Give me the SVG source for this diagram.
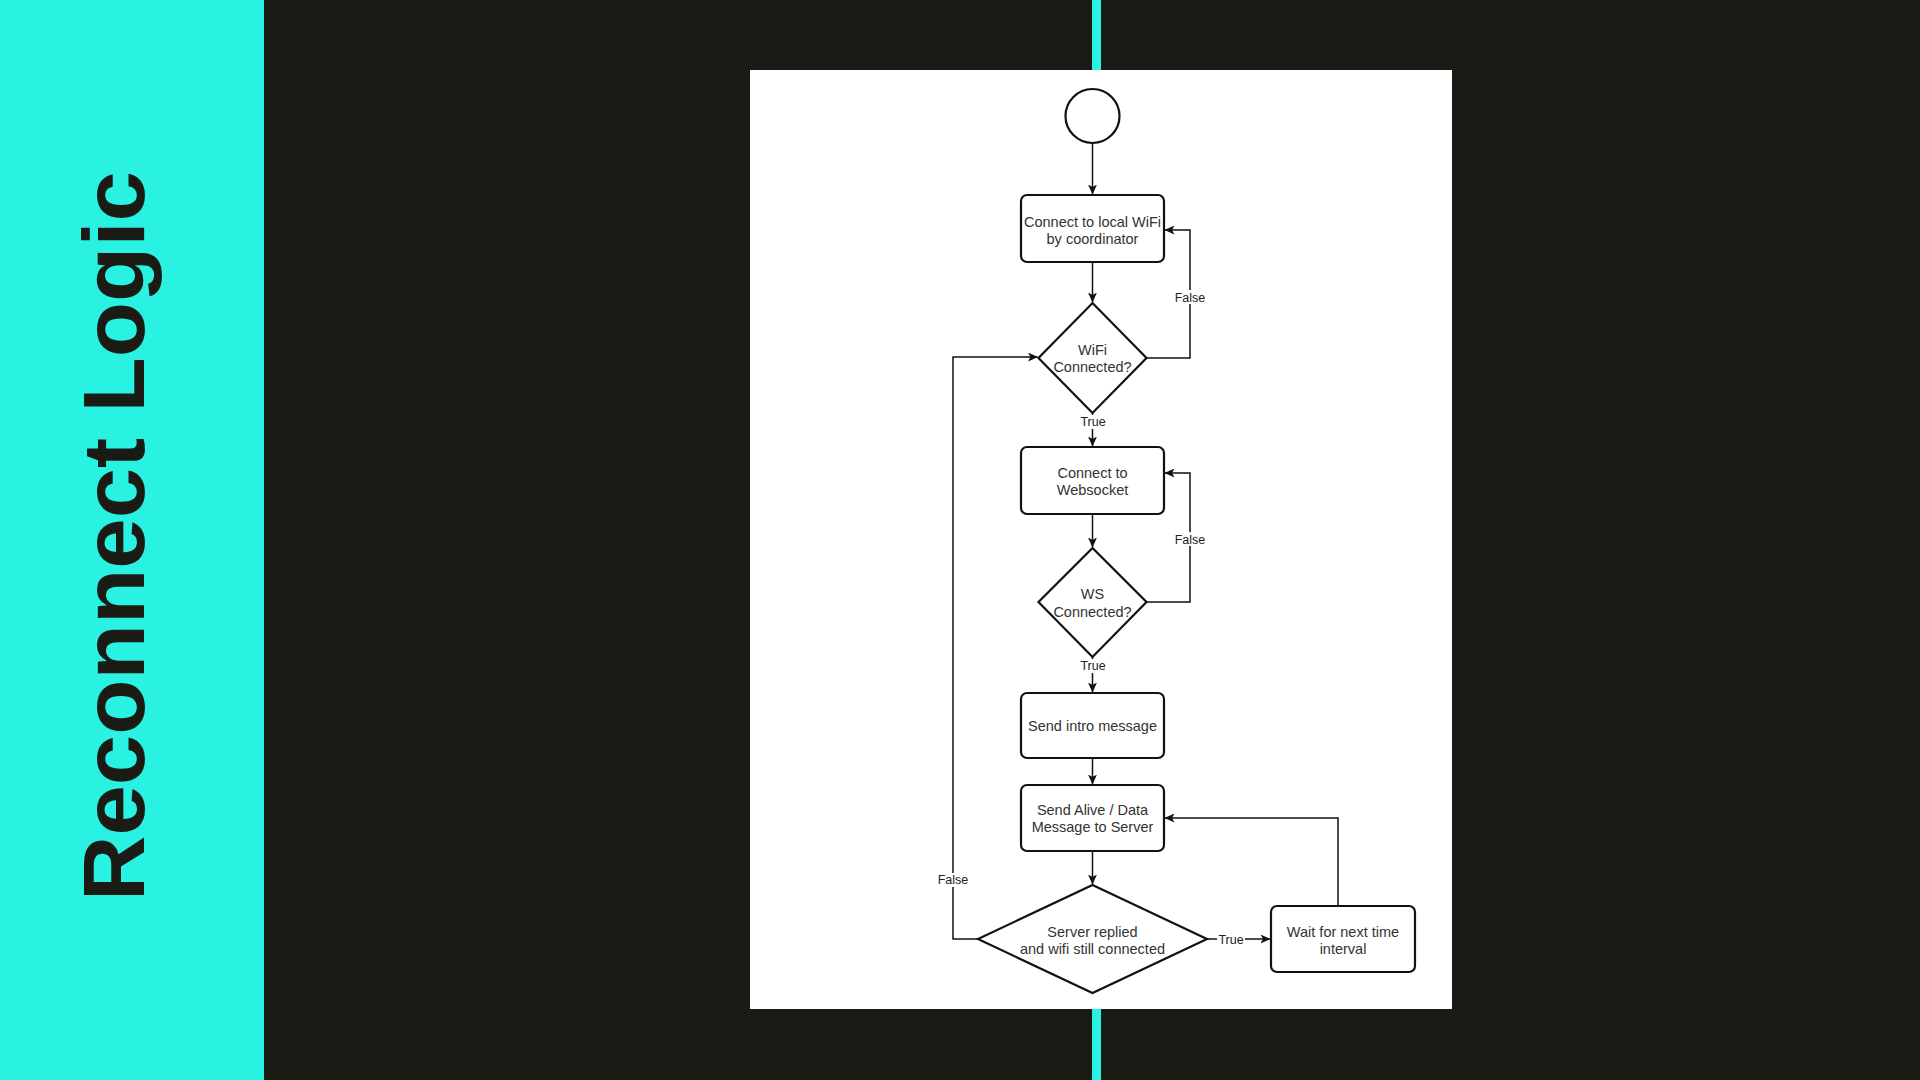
<svg xmlns="http://www.w3.org/2000/svg" width="1920" height="1080" viewBox="0 0 1920 1080">
<style>
.node{fill:#ffffff;stroke:#111111;stroke-width:2.2}
.t{font-family:"Liberation Sans",Arial,sans-serif;font-size:14.5px;fill:#333333;text-anchor:middle}
.lbl{font-family:"Liberation Sans",Arial,sans-serif;font-size:12.5px;fill:#222222;text-anchor:middle}
.edge{fill:none;stroke:#111111;stroke-width:1.5}
.lblbg{fill:#ffffff}
</style>
<defs>
<marker id="arr" markerUnits="userSpaceOnUse" markerWidth="11" markerHeight="9" refX="9.5" refY="4.5" orient="auto">
<path d="M0,0 L10,4.5 L0,9 L2.5,4.5 Z" fill="#111111"/>
</marker>
</defs>
<rect x="0" y="0" width="1920" height="1080" fill="#1b1b15"/>
<rect x="0" y="0" width="264" height="1080" fill="#29f2e3"/>
<text transform="translate(144,901) rotate(-90)" font-family="'Liberation Sans',Arial,sans-serif" font-weight="bold" font-size="87" fill="#1b1b15" textLength="730" lengthAdjust="spacingAndGlyphs">Reconnect Logic</text>
<rect x="1092" y="0" width="9" height="72" fill="#29f2e3"/>
<rect x="1092" y="1008" width="9" height="72" fill="#29f2e3"/>
<rect x="750" y="70" width="702" height="939" fill="#ffffff"/>

<g id="connectors">
<path class="edge" d="M1092.5,143 V194" marker-end="url(#arr)"/>
<path class="edge" d="M1092.5,262 V302" marker-end="url(#arr)"/>
<path class="edge" d="M1146.5,358 H1190 V230 H1165" marker-end="url(#arr)"/>
<path class="edge" d="M1092.5,413 V446" marker-end="url(#arr)"/>
<path class="edge" d="M1092.5,514 V547" marker-end="url(#arr)"/>
<path class="edge" d="M1146.5,602 H1190 V473 H1165" marker-end="url(#arr)"/>
<path class="edge" d="M1092.5,657 V692" marker-end="url(#arr)"/>
<path class="edge" d="M1092.5,758 V784" marker-end="url(#arr)"/>
<path class="edge" d="M1092.5,851 V884" marker-end="url(#arr)"/>
<path class="edge" d="M978,939 H953 V357 H1037.5" marker-end="url(#arr)"/>
<path class="edge" d="M1207,939 H1270" marker-end="url(#arr)"/>
<path class="edge" d="M1338,906 V818 H1165" marker-end="url(#arr)"/>
<rect class="lblbg" x="1174" y="290" width="32" height="14"/>
<text class="lbl" x="1190" y="301.5">False</text>
<rect class="lblbg" x="1079" y="415" width="28" height="14"/>
<text class="lbl" x="1093" y="426">True</text>
<rect class="lblbg" x="1174" y="532" width="32" height="14"/>
<text class="lbl" x="1190" y="543.7">False</text>
<rect class="lblbg" x="1079" y="659" width="28" height="14"/>
<text class="lbl" x="1093" y="670.4">True</text>
<rect class="lblbg" x="937" y="873" width="32" height="14"/>
<text class="lbl" x="953" y="884.4">False</text>
<rect class="lblbg" x="1217" y="933" width="28" height="14"/>
<text class="lbl" x="1231" y="944.4">True</text>
</g>

<g id="start"><circle class="node" cx="1092.5" cy="116" r="27"/></g>
<g id="connect-wifi">
<rect class="node" x="1021" y="195" width="143" height="67" rx="6"/>
<text class="t" x="1092.5" y="227">Connect to local WiFi</text>
<text class="t" x="1092.5" y="243.5">by coordinator</text>
</g>
<g id="wifi-connected">
<polygon class="node" points="1092.5,303 1146.5,358 1092.5,413 1038.5,358"/>
<text class="t" x="1092.5" y="355">WiFi</text>
<text class="t" x="1092.5" y="372">Connected?</text>
</g>
<g id="connect-ws">
<rect class="node" x="1021" y="447" width="143" height="67" rx="6"/>
<text class="t" x="1092.5" y="478">Connect to</text>
<text class="t" x="1092.5" y="495">Websocket</text>
</g>
<g id="ws-connected">
<polygon class="node" points="1092.5,548 1146.5,602 1092.5,657 1038.5,602"/>
<text class="t" x="1092.5" y="599">WS</text>
<text class="t" x="1092.5" y="616.5">Connected?</text>
</g>
<g id="send-intro">
<rect class="node" x="1021" y="693" width="143" height="65" rx="6"/>
<text class="t" x="1092.5" y="731">Send intro message</text>
</g>
<g id="send-alive">
<rect class="node" x="1021" y="785" width="143" height="66" rx="6"/>
<text class="t" x="1092.5" y="815">Send Alive / Data</text>
<text class="t" x="1092.5" y="832">Message to Server</text>
</g>
<g id="server-replied">
<polygon class="node" points="1092.5,885 1207,939 1092.5,993 978,939"/>
<text class="t" x="1092.5" y="937">Server replied</text>
<text class="t" x="1092.5" y="954">and wifi still connected</text>
</g>
<g id="wait">
<rect class="node" x="1271" y="906" width="144" height="66" rx="6"/>
<text class="t" x="1343" y="937">Wait for next time</text>
<text class="t" x="1343" y="954">interval</text>
</g>
</svg>
